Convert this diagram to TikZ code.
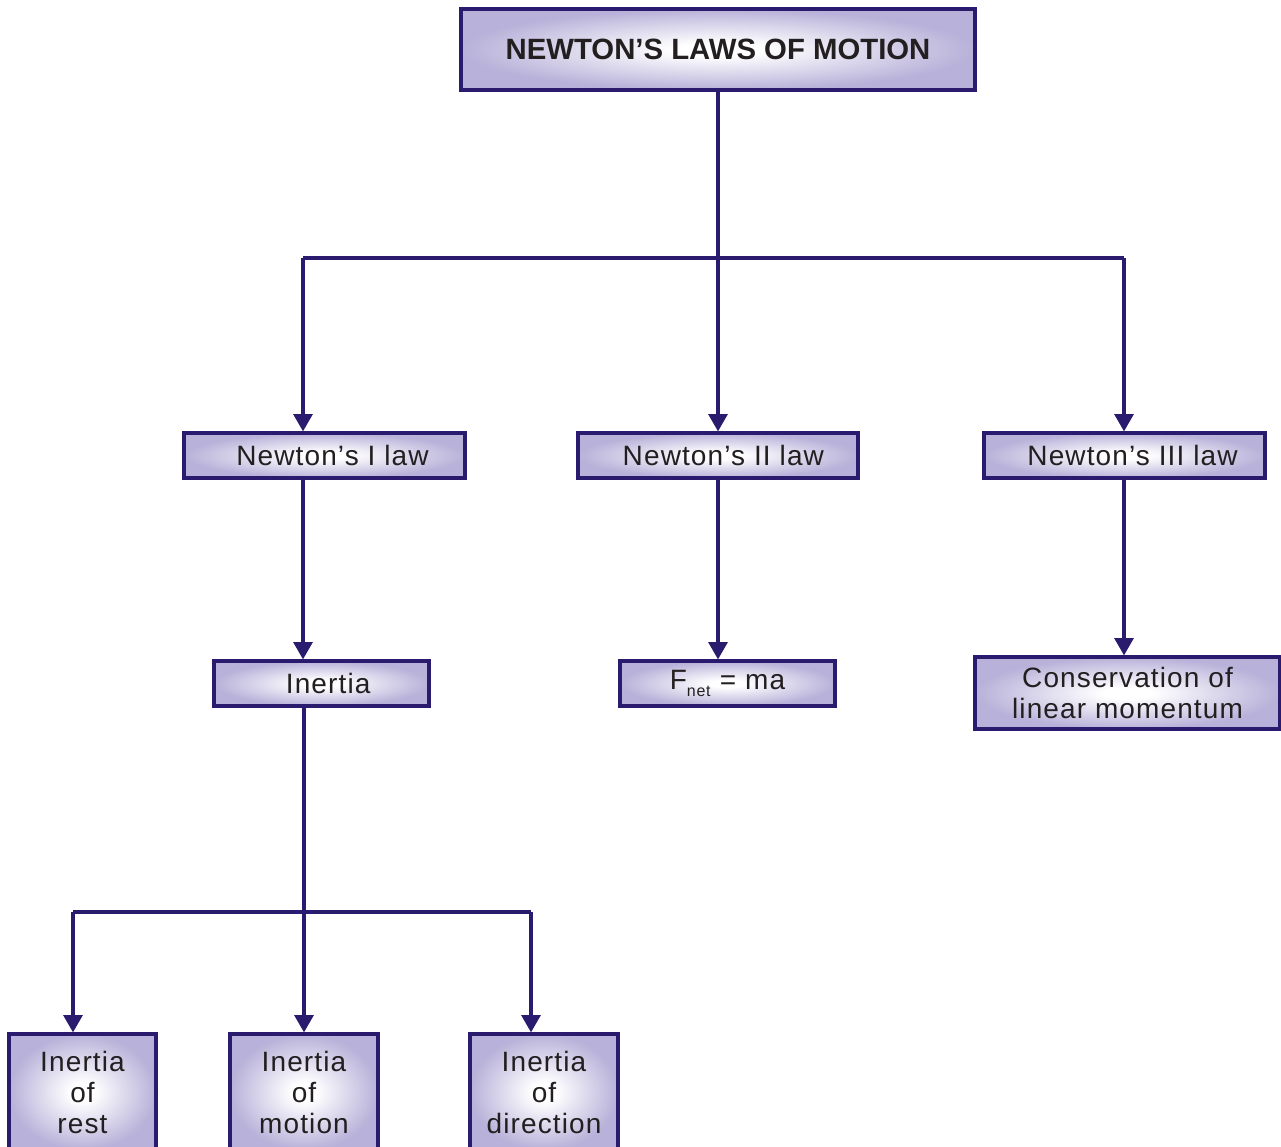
\documentclass[tikz,border=0pt]{standalone}
\usepackage{fontspec}
\setmainfont{Liberation Sans}
\newfontfamily\wide[LetterSpace=4]{Liberation Sans}
\usetikzlibrary{arrows.meta}
\definecolor{ink}{RGB}{42,27,110}
\definecolor{lav}{RGB}{184,177,217}
\definecolor{txt}{RGB}{35,31,32}
\pgfdeclareradialshading{glow}{\pgfpoint{0bp}{0bp}}{%
  color(0bp)=(white); color(4bp)=(white); color(25bp)=(lav); color(50bp)=(lav)}
\tikzset{
  box/.style={draw=ink, line width=2.3pt, shading=glow,
    text=txt, inner sep=0pt, font=\wide\fontsize{21}{23.25}\selectfont},
  wire/.style={draw=ink, line width=2.8pt},
  arr/.style={wire, -{Triangle[length=13pt,width=14pt]}}
}
\begin{document}
\begin{tikzpicture}[x=0.75pt, y=-0.75pt]
   \useasboundingbox (0,0) rectangle (1281,1146);
   \node[box, minimum width=385.5pt, minimum height=60.75pt,
         font=\fontsize{22}{24}\selectfont\bfseries] (title) at (718,49.5) {NEWTON’S LAWS OF MOTION};

   \node[box, minimum width=210.75pt, minimum height=33.75pt] (law1) at (324.5,455.5) {\hspace{12pt}Newton’s I law};
   \node[box, minimum width=210pt, minimum height=33.75pt] (law2) at (718,455.5) {\hspace{8pt}Newton’s II law};
   \node[box, minimum width=210.75pt, minimum height=33.75pt] (law3) at (1124.5,455.5) {\hspace{12pt}Newton’s III law};

   \node[box, minimum width=161.25pt, minimum height=33.75pt] (inertia) at (321.5,683.5) {\hspace{10pt}Inertia};
   \node[box, minimum width=161.25pt, minimum height=33.75pt] (fnet) at (727.5,683.5)
        {F\raisebox{-0.45ex}{\fontsize{12}{12}\selectfont net}\,\,= ma};
   \node[box, minimum width=228.75pt, minimum height=54pt, align=center] (cons) at (1127.5,693)
        {Conservation of\\linear momentum};

   \node[box, minimum width=110.25pt, minimum height=87pt, align=center] (rest) at (82.5,1092) {Inertia\\of\\rest};
   \node[box, minimum width=111pt, minimum height=87pt, align=center] (motion) at (304,1092) {Inertia\\of\\motion};
   \node[box, minimum width=111pt, minimum height=87pt, align=center] (dir) at (544,1092) {Inertia\\of\\direction};

   \coordinate (b1) at (303,258);
   \coordinate (b3) at (1124,258);
   \coordinate (c1) at (73,912);
   \coordinate (c3) at (531,912);

   % first level
   \draw[arr] (title.south) -- (law2.north);
   \draw[wire] (b1) -- (b3);
   \draw[arr] (b1) -- (b1 |- law1.north);
   \draw[arr] (b3) -- (b3 |- law3.north);

   % second level
   \draw[arr] (law1.south -| b1) -- (b1 |- inertia.north);
   \draw[arr] (law2.south) -- (law2.south |- fnet.north);
   \draw[arr] (law3.south -| b3) -- (b3 |- cons.north);

   % kinds of inertia
   \draw[arr] (inertia.south -| motion) -- (motion.north);
   \draw[wire] (c1) -- (c3);
   \draw[arr] (c1) -- (c1 |- rest.north);
   \draw[arr] (c3) -- (c3 |- dir.north);
\end{tikzpicture}
\end{document}
